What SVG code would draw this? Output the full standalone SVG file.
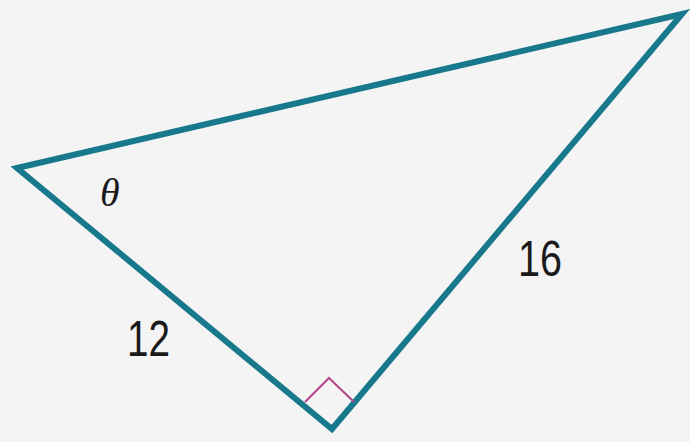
<svg xmlns="http://www.w3.org/2000/svg" width="690" height="442" viewBox="0 0 690 442">
<style>
.edge{fill:none;stroke:#18798c;stroke-width:6;stroke-linejoin:miter;stroke-linecap:round}
.mark{fill:none;stroke:#b5468a;stroke-width:2}
.lbl{font-family:"Liberation Sans",Arial,sans-serif;font-size:50px;fill:#1a1a1a}
.ang{font-family:"Liberation Serif","Times New Roman",serif;font-style:italic;font-size:40px;fill:#1a1a1a}
</style>
<rect width="690" height="442" fill="#f4f4f4"/>
<g id="connectors">
<polygon class="edge" points="17,168 682,14 332,429"/>
<polyline class="mark" points="305,402 329,378 354,402"/>
</g>
<g id="theta"><text class="ang" x="100" y="206">θ</text></g>
<g id="side12"><text class="lbl" x="127" y="356" textLength="43" lengthAdjust="spacingAndGlyphs">12</text></g>
<g id="side16"><text class="lbl" x="518" y="276" textLength="44" lengthAdjust="spacingAndGlyphs">16</text></g>
</svg>
